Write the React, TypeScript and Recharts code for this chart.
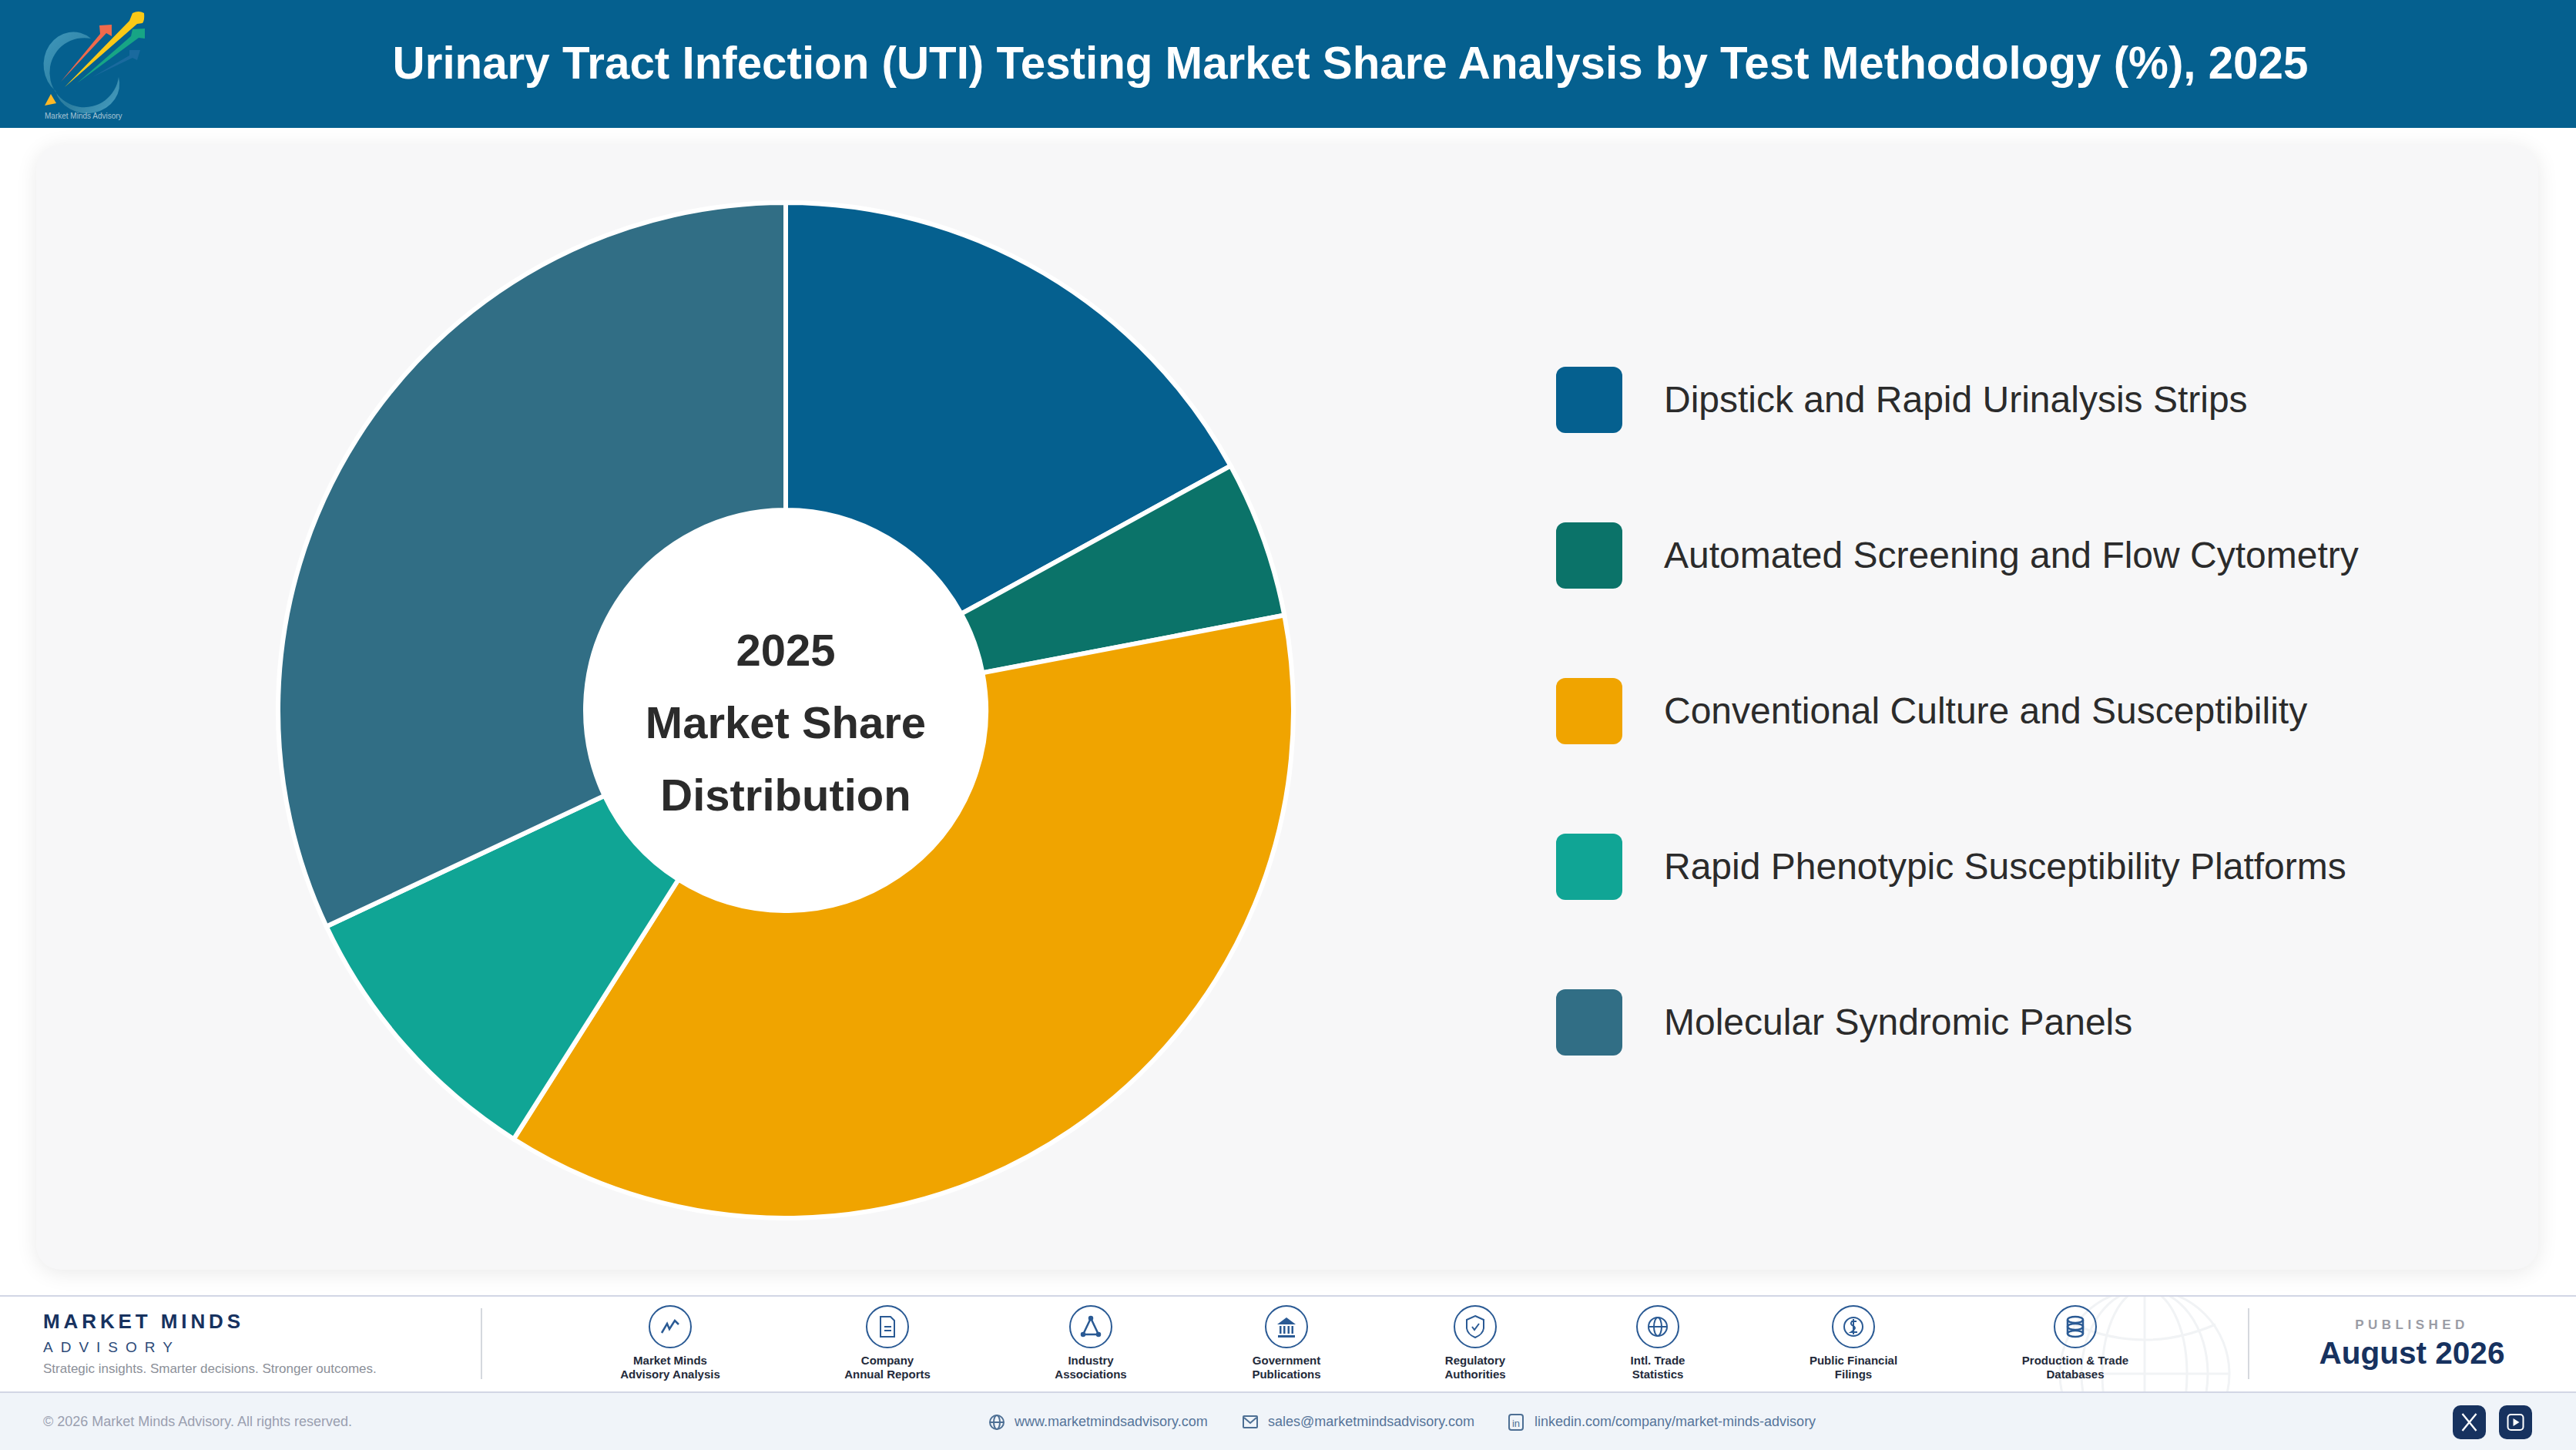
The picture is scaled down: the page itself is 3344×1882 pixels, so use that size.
import { PieChart, Pie, Cell, Legend } from 'recharts'

const categories = [
  'Dipstick and Rapid Urinalysis Strips',
  'Automated Screening and Flow Cytometry',
  'Conventional Culture and Susceptibility',
  'Rapid Phenotypic Susceptibility Platforms',
  'Molecular Syndromic Panels',
]
const shares = [17, 5, 37, 9, 32]
const sliceColors = ['#05608f', '#0b7369', '#f0a400', '#10a595', '#316e85']
const centerLines = ['2025', 'Market Share', 'Distribution']

const sourceNames = [
  ['Market Minds', 'Advisory Analysis'],
  ['Company', 'Annual Reports'],
  ['Industry', 'Associations'],
  ['Government', 'Publications'],
  ['Regulatory', 'Authorities'],
  ['Intl. Trade', 'Statistics'],
  ['Public Financial', 'Filings'],
  ['Production & Trade', 'Databases'],
]
const sourceCenters = [870, 1152, 1416, 1670, 1915, 2152, 2406, 2694]

const data = categories.map((name, i) => ({ name, share: shares[i] }))

const navy = '#17325f'
const iconBlue = '#2a5a94'
const sans = '"Liberation Sans", Arial, sans-serif'

function ChartLegend() {
  return (
    <div style={{ display: 'flex', flexDirection: 'column', gap: 116 }}>
      {categories.map((name, i) => (
        <div key={name} style={{ display: 'flex', alignItems: 'center', height: 86 }}>
          <div
            style={{
              width: 86,
              height: 86,
              borderRadius: 12,
              background: sliceColors[i],
              marginRight: 54,
            }}
          />
          <span
            style={{
              position: 'relative',
              top: -1,
              fontFamily: sans,
              fontSize: 48,
              color: '#2b2b2b',
              whiteSpace: 'nowrap',
            }}
          >
            {name}
          </span>
        </div>
      ))}
    </div>
  )
}

function Logo() {
  return (
    <svg width={200} height={166} style={{ position: 'absolute', left: 0, top: 0 }}>
      <defs>
        <linearGradient id="ring" x1="0" y1="0" x2="1" y2="1">
          <stop offset="0" stopColor="#3f97bb" />
          <stop offset="0.6" stopColor="#2b7d9f" />
          <stop offset="1" stopColor="#4aa0c2" />
        </linearGradient>
      </defs>
      <path
        d="M118 50 A45 45 0 1 0 154 100 A42 38 0 0 1 72 118 A38 42 0 0 1 118 50 Z"
        fill="url(#ring)"
      />
      <path d="M58 137 L66 122 L73 134 Z" fill="#fdb827" />
      <path d="M79 106 L130 44 L129 33 L145 32 L145 47 L138 43 Z" fill="#ef6a4c" />
      <path d="M84 113 L168 27 L172 17 Q180 13 187 17 Q188 26 185 30 L178 31 Z" fill="#fbc916" />
      <path d="M100 108 L170 47 L172 38 L188 37 L188 50 L180 49 Z" fill="#17a585" />
      <path d="M120 100 L168 72 L168 65 L182 65 L178 78 L172 75 Z" fill="#1a6a9e" />
      <text x={58} y={154} fontFamily={sans} fontSize={10} fill="#a8c4d4">
        Market Minds Advisory
      </text>
    </svg>
  )
}

// small line icons for the sources strip, all drawn on a 54px box
function SourceIcon({ index }: { index: number }) {
  const line = { fill: 'none', stroke: iconBlue, strokeWidth: 2 }
  return (
    <svg width={58} height={58} viewBox="-29 -29 58 58" style={{ display: 'block' }}>
      <circle r={27} {...line} />
      {index === 0 && <path d="M-11 8 L-4 -4 L-1 3 L6 -8 L11 -3" {...line} strokeWidth={2.5} />}
      {index === 1 && (
        <g {...line}>
          <path d="M-9 -13 H4 L9 -8 V13 H-9 Z" />
          <path d="M-4 0 H5 M-4 5 H5" />
        </g>
      )}
      {index === 2 && (
        <g {...line} strokeWidth={2.5}>
          <path d="M0 -11 L-10 10 H10 Z" />
          <circle cy={-11} r={2} />
          <circle cx={-10} cy={10} r={2} />
          <circle cx={10} cy={10} r={2} />
        </g>
      )}
      {index === 3 && (
        <g fill={iconBlue}>
          <path d="M0 -12 L12 -3 H-12 Z" />
          <path d="M-11 11 H11 V14 H-11 Z" />
          <path d="M-9 -1 H-6.5 V9 H-9 Z M-4 -1 H-1.5 V9 H-4 Z M1.5 -1 H4 V9 H1.5 Z M6.5 -1 H9 V9 H6.5 Z" />
        </g>
      )}
      {index === 4 && (
        <g {...line}>
          <path d="M0 -14 L11 -9 V2 Q10 10 0 14 Q-10 10 -11 2 V-9 Z" />
          <path d="M-4 0 L-1 4 L5 -4" />
        </g>
      )}
      {index === 5 && (
        <g {...line}>
          <circle r={12} />
          <ellipse rx={5} ry={12} />
          <path d="M-12 0 H12" />
        </g>
      )}
      {index === 6 && (
        <g {...line}>
          <circle r={12} />
          <path d="M4 -7 H-2 Q-5 -3 0 -1 Q5 2 -3 7 H5 M0 -10 V10" />
        </g>
      )}
      {index === 7 && (
        <g {...line} strokeWidth={2.5}>
          <ellipse cy={-9} rx={10} ry={4} />
          <ellipse cy={0} rx={10} ry={4} />
          <ellipse cy={9} rx={10} ry={4} />
          <path d="M-10 -9 V9 M10 -9 V9" />
        </g>
      )}
    </svg>
  )
}

function Globe() {
  const line = { fill: 'none', stroke: '#f1f3f5', strokeWidth: 3 }
  return (
    <svg
      width={260}
      height={123}
      viewBox="-130 -100 260 123"
      style={{ position: 'absolute', left: 2654, top: 1683 }}
    >
      <g {...line}>
        <circle r={110} />
        <ellipse rx={55} ry={110} />
        <ellipse rx={82} ry={110} />
        <path d="M-110 0 H110 M0 -110 V110" />
        <path d="M-92 -60 Q0 -20 92 -60" transform="translate(0 -4)" />
      </g>
    </svg>
  )
}

function ContactIcon({ index }: { index: number }) {
  const line = { fill: 'none', stroke: '#4d6f94', strokeWidth: 2 }
  return (
    <svg width={22} height={22} viewBox="-11 -11 22 22">
      {index === 0 && (
        <g {...line}>
          <circle r={9} />
          <ellipse rx={4} ry={9} />
          <path d="M-9 0 H9" />
        </g>
      )}
      {index === 1 && (
        <g {...line}>
          <rect x={-9} y={-8} width={18} height={15} rx={1} />
          <path d="M-8 -6 L0 1 L8 -6" />
        </g>
      )}
      {index === 2 && (
        <g>
          <rect x={-9} y={-10} width={18} height={20} rx={3} {...line} />
          <text x={0} y={6} textAnchor="middle" fontFamily={sans} fontSize={13} fill="#4d6f94">
            in
          </text>
        </g>
      )}
    </svg>
  )
}

const contactLinks = [
  { x: 1317, icon: 1283, label: 'www.marketmindsadvisory.com' },
  { x: 1646, icon: 1612, label: 'sales@marketmindsadvisory.com' },
  { x: 1992, icon: 1957, label: 'linkedin.com/company/market-minds-advisory' },
]

function at(left: number, top: number, extra: any = {}) {
  return { position: 'absolute', left, top, whiteSpace: 'nowrap', ...extra } as any
}

export default function App() {
  return (
    <div
      style={{
        position: 'absolute',
        left: 0,
        top: 0,
        width: 3344,
        height: 1882,
        overflow: 'hidden',
        background: '#fff',
      }}
    >
      {/* header */}
      <div style={at(0, 0, { width: 3344, height: 166, background: '#05608f' })} />
      <Logo />
      <div
        style={at(200, 0, {
          width: 3106,
          height: 166,
          lineHeight: '164px',
          textAlign: 'center',
          fontFamily: sans,
          fontWeight: 700,
          fontSize: 58.3,
          color: '#fff',
        })}
      >
        Urinary Tract Infection (UTI) Testing Market Share Analysis by Test Methodology (%), 2025
      </div>

      {/* card */}
      <div
        style={at(47, 188, {
          width: 3248,
          height: 1460,
          background: '#f7f7f8',
          borderRadius: 32,
          boxShadow: '0 4px 28px rgba(0,0,0,0.09)',
        })}
      />
      <div
        style={at(757, 659, {
          width: 526,
          height: 526,
          borderRadius: '50%',
          background: '#fff',
        })}
      />
      <div style={at(0, 0)}>
        <PieChart width={3344} height={1682} margin={{ top: 0, right: 0, bottom: 0, left: 0 }}>
          <Pie
            data={data}
            dataKey="share"
            nameKey="name"
            cx={1020}
            cy={922}
            innerRadius={260}
            outerRadius={659}
            startAngle={90}
            endAngle={-270}
            stroke="#fff"
            strokeWidth={6}
            isAnimationActive={false}
          >
            {data.map((d, i) => (
              <Cell key={d.name} fill={sliceColors[i]} />
            ))}
          </Pie>
          <text textAnchor="middle" fontFamily={sans} fontWeight={700} fontSize={58} fill="#2b2b2b">
            {centerLines.map((line, i) => (
              <tspan key={line} x={1020} y={864 + i * 94}>
                {line}
              </tspan>
            ))}
          </text>
          <Legend
            content={<ChartLegend />}
            wrapperStyle={{ position: 'absolute', left: 2020, top: 476, width: 1200, bottom: 'auto' }}
          />
        </PieChart>
      </div>

      {/* sources strip */}
      <div style={at(0, 1681, { width: 3344, height: 2, background: '#d2d6e5' })} />
      <Globe />
      <div style={at(56, 1700, { fontFamily: sans, fontWeight: 700, fontSize: 26, letterSpacing: 4.9, color: navy })}>
        MARKET MINDS
      </div>
      <div style={at(56, 1738, { fontFamily: sans, fontSize: 19, letterSpacing: 10, color: '#2c4a78' })}>
        ADVISORY
      </div>
      <div style={at(56, 1767, { fontFamily: sans, fontSize: 17, color: '#8c9099' })}>
        Strategic insights. Smarter decisions. Stronger outcomes.
      </div>
      <div style={at(624, 1698, { width: 2, height: 92, background: '#d5d8de' })} />
      <div style={at(2918, 1698, { width: 2, height: 92, background: '#d5d8de' })} />
      {sourceNames.map((lines, i) => (
        <div
          key={lines[0]}
          style={at(sourceCenters[i] - 120, 1693, {
            width: 240,
            textAlign: 'center',
            fontFamily: sans,
            fontWeight: 700,
            fontSize: 15,
            lineHeight: '18px',
            color: '#232a3a',
          })}
        >
          <div style={{ display: 'flex', justifyContent: 'center', marginBottom: 6 }}>
            <SourceIcon index={i} />
          </div>
          <div>{lines[0]}</div>
          <div>{lines[1]}</div>
        </div>
      ))}
      <div
        style={at(2931, 1710, {
          width: 400,
          textAlign: 'center',
          fontFamily: sans,
          fontWeight: 700,
          fontSize: 17,
          letterSpacing: 5.5,
          color: '#9a9ca5',
        })}
      >
        PUBLISHED
      </div>
      <div
        style={at(2931, 1733, {
          width: 400,
          textAlign: 'center',
          fontFamily: sans,
          fontWeight: 700,
          fontSize: 40.5,
          color: navy,
        })}
      >
        August 2026
      </div>

      {/* bottom bar */}
      <div style={at(0, 1806, { width: 3344, height: 76, background: '#f0f4f9', borderTop: '2px solid #d2d6e5', boxSizing: 'border-box' })} />
      <div style={at(56, 1835, { fontFamily: sans, fontSize: 18, color: '#9a9fb0' })}>
        © 2026 Market Minds Advisory. All rights reserved.
      </div>
      {contactLinks.map((c, i) => (
        <div key={c.label}>
          <div style={at(c.icon, 1835)}>
            <ContactIcon index={i} />
          </div>
          <div style={at(c.x, 1835, { fontFamily: sans, fontSize: 18, color: '#56749a' })}>{c.label}</div>
        </div>
      ))}
      <div style={at(3184, 1824, { width: 43, height: 44, borderRadius: 10, background: navy })}>
        <svg width={43} height={44} viewBox="-21.5 -22 43 44">
          <path d="M-9 -11 L9 11 M9 -11 L-9 11" stroke="#fff" strokeWidth={2.4} fill="none" />
        </svg>
      </div>
      <div style={at(3244, 1824, { width: 43, height: 44, borderRadius: 10, background: navy })}>
        <svg width={43} height={44} viewBox="-21.5 -22 43 44">
          <rect x={-10} y={-10} width={20} height={20} rx={4} stroke="#fff" strokeWidth={2} fill="none" />
          <path d="M-3 -5 L5 0 L-3 5 Z" fill="#fff" />
        </svg>
      </div>
    </div>
  )
}
